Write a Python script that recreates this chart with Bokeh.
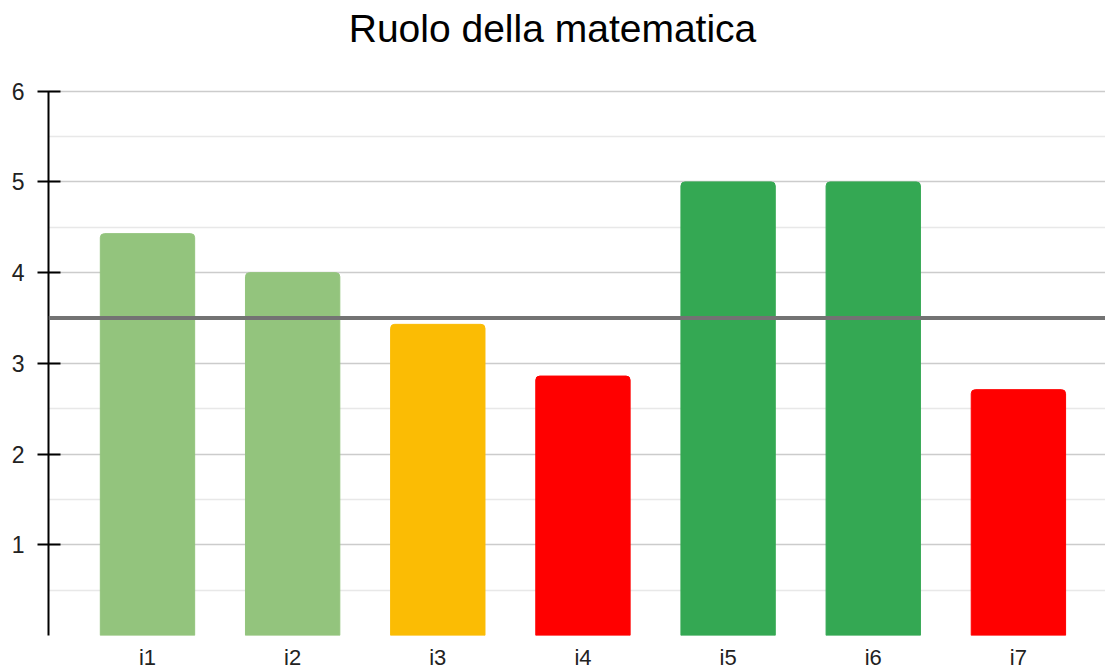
from bokeh.plotting import figure
from bokeh.models import ColumnDataSource, Range1d, FixedTicker, Span, Label
from bokeh.embed import file_html
from bokeh.resources import INLINE

title_text = "Ruolo della matematica"
categories = ["i1", "i2", "i3", "i4", "i5", "i6", "i7"]
values = [4.43, 4.0, 3.43, 2.86, 5.0, 5.0, 2.71]
colors = ["#93c47d", "#93c47d", "#fbbc04", "#ff0000", "#34a853", "#34a853", "#ff0000"]
threshold = 3.5
y_ticks = [1, 2, 3, 4, 5, 6]
y_minor = [0.5, 1.5, 2.5, 3.5, 4.5, 5.5]
y_max = 6

xs = list(range(len(categories)))
src = ColumnDataSource(dict(x=xs, top=values, color=colors, name=categories))

FONT = "Liberation Sans"

# frame spans the full height above the x labels; extra headroom holds the title
p = figure(width=1105, height=672, output_backend="svg", toolbar_location=None,
           x_range=Range1d(-0.682, 6.6), y_range=Range1d(0, 7.0),
           min_border_left=48, min_border_right=0, min_border_top=0, min_border_bottom=37)
p.outline_line_color = None
p.background_fill_color = "white"
p.border_fill_color = "white"

p.add_layout(Label(x=504, y=607, x_units="screen", y_units="screen", text=title_text,
                   text_font=FONT, text_font_size="39px", text_color="#000000",
                   text_align="center", text_baseline="middle"))

# grids
p.xgrid.grid_line_color = None
p.ygrid.grid_line_color = "#cccccc"
p.ygrid.grid_line_width = 1.5
p.ygrid.minor_grid_line_color = "#e8e8e8"
p.ygrid.minor_grid_line_width = 1.5

p.vbar(x="x", top="top", bottom=0, width=0.65, color="color", source=src,
       border_radius=(4, 4, 0, 0))

p.add_layout(Span(location=threshold, dimension="width", line_color="#737373", line_width=4))

# y axis
p.yaxis.ticker = FixedTicker(ticks=y_ticks, minor_ticks=y_minor)
p.yaxis.bounds = (0, y_max)
p.yaxis.axis_line_color = "#000000"
p.yaxis.axis_line_width = 2
p.yaxis.major_tick_line_color = "#000000"
p.yaxis.major_tick_line_width = 2
p.yaxis.major_tick_out = 11
p.yaxis.major_tick_in = 12
p.yaxis.minor_tick_line_color = None
p.yaxis.minor_tick_out = 0
p.yaxis.major_label_standoff = 13
p.yaxis.major_label_text_font = FONT
p.yaxis.major_label_text_font_size = "23px"
p.yaxis.major_label_text_color = "#222222"

# x axis
p.xaxis.ticker = FixedTicker(ticks=xs)
p.xaxis.major_label_overrides = {i: c for i, c in zip(xs, categories)}
p.xaxis.axis_line_color = None
p.xaxis.major_tick_line_color = None
p.xaxis.minor_tick_line_color = None
p.xaxis.major_tick_out = 0
p.xaxis.major_tick_in = 0
p.xaxis.minor_tick_out = 0
p.xaxis.major_label_standoff = 9
p.xaxis.major_label_text_font = FONT
p.xaxis.major_label_text_font_size = "22px"
p.xaxis.major_label_text_color = "#222222"

open("out.html", "w").write(file_html(p, INLINE))
